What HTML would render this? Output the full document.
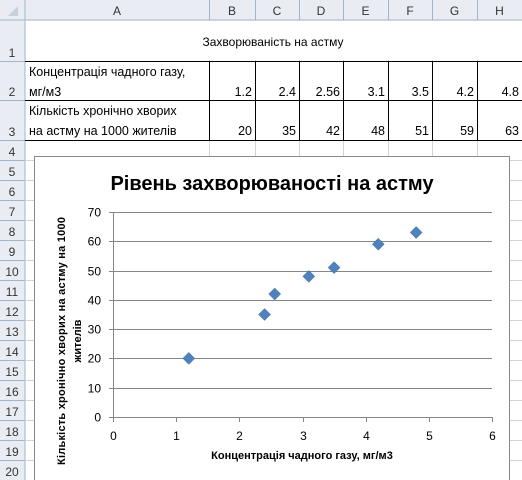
<!DOCTYPE html>
<html><head><meta charset="utf-8"><style>
body{margin:0;background:#fff;}
svg{display:block;font-family:"Liberation Sans","DejaVu Sans",sans-serif;}
</style></head><body>
<svg id="s" width="522" height="480" viewBox="0 0 522 480" xmlns="http://www.w3.org/2000/svg">
<g id="grid"></g>
<g id="chart"></g>
</svg>
<script>
const xVals=[1.2,2.4,2.56,3.1,3.5,4.2,4.8];
const yVals=[20,35,42,48,51,59,63];
const xTicks=[0,1,2,3,4,5,6];
const yTicks=[0,10,20,30,40,50,60,70];
const NS='http://www.w3.org/2000/svg';
function mk(p,tag,attrs,txt){const e=document.createElementNS(NS,tag);for(const k in attrs)e.setAttribute(k,attrs[k]);if(txt!==undefined)e.textContent=txt;p.appendChild(e);return e;}
const G=document.getElementById('grid');
const colX=[25,209,255,299,343,388,432,477,522];
const colN=['A','B','C','D','E','F','G','H'];
const rowY=[20,61,100,140,160,180,200,220,240,260,280,300,320,340,360,380,400,420,440,460,480];
mk(G,'rect',{x:0,y:0,width:522,height:20,fill:'#e9edf3'});
mk(G,'rect',{x:0,y:0,width:25,height:480,fill:'#e9edf3'});
mk(G,'line',{x1:0,y1:20,x2:522,y2:20,stroke:'#9eb6ce'});
mk(G,'line',{x1:25,y1:0,x2:25,y2:480,stroke:'#9eb6ce'});
mk(G,'path',{d:'M18 6 L18 16 L8 16 Z',fill:'#c8cfd8'});
for(let i=1;i<colX.length;i++){mk(G,'line',{x1:colX[i]+.5,y1:20,x2:colX[i]+.5,y2:480,stroke:'#d4d4d4'});}
for(let i=0;i<rowY.length;i++){mk(G,'line',{x1:25,y1:rowY[i]+.5,x2:522,y2:rowY[i]+.5,stroke:'#d4d4d4'});}
mk(G,'rect',{x:26,y:21,width:496,height:39,fill:'#fff'});
for(let i=0;i<colN.length;i++){
 const t=mk(G,'text',{x:(colX[i]+colX[i+1])/2,y:15,'text-anchor':'middle','font-size':12,fill:'#333'},colN[i]);
 
 
 mk(G,'line',{x1:colX[i+1]+.5,y1:0,x2:colX[i+1]+.5,y2:20,stroke:'#9eb6ce'});
}
for(let r=1;r<rowY.length;r++){
 const y1=rowY[r];
 const t=mk(G,'text',{x:12,y:y1-4,'text-anchor':'middle','font-size':12,fill:'#333'},String(r));
 
 
 mk(G,'line',{x1:0,y1:y1+.5,x2:25,y2:y1+.5,stroke:'#9eb6ce'});
}
const tt=mk(G,'text',{x:273,y:46,'text-anchor':'middle','font-size':12,fill:'#000'},'Захворюваність на астму');

mk(G,'rect',{x:26,y:61,width:495,height:79,fill:'#fff'});
mk(G,'path',{d:'M25 61.5H522M25 100.5H522M25 140.5H522',stroke:'#000','stroke-width':1});
for(let i=1;i<colX.length-1;i++)mk(G,'line',{x1:colX[i]+.5,y1:61,x2:colX[i]+.5,y2:140,stroke:'#000'});
const l1=mk(G,'text',{x:29,y:76,'font-size':12.5,fill:'#000'},'Концентрація чадного газу,');
mk(G,'text',{x:29,y:96,'font-size':12.5,fill:'#000'},'мг/м3');

const l2=mk(G,'text',{x:29,y:115,'font-size':12.5,fill:'#000'},'Кількість хронічно хворих');
mk(G,'text',{x:29,y:135,'font-size':12.5,fill:'#000'},'на астму на 1000 жителів');

for(let i=0;i<xVals.length;i++){
 const a=mk(G,'text',{x:colX[i+2]-3,y:96,'text-anchor':'end','font-size':12.5},String(xVals[i]));
 
 const b=mk(G,'text',{x:colX[i+2]-3,y:135,'text-anchor':'end','font-size':12.5},String(yVals[i]));
 
}
const C=document.getElementById('chart');
const box=mk(C,'rect',{x:34.5,y:156.5,width:475,height:324,fill:'#fff',stroke:'#888'});

const X0=113,X1=492,Y0=417,Y1=212;
const sx=v=>X0+(v-0)/(6-0)*(X1-X0);
const sy=v=>Y0-(v-0)/(70-0)*(Y0-Y1);
for(const t of yTicks){
 const y=Math.round(sy(t))+.5;
 const g=mk(C,'line',{x1:X0,y1:y,x2:X1,y2:y,stroke:'#868686'});
 
 mk(C,'line',{x1:X0-4,y1:y,x2:X0,y2:y,stroke:'#868686'});
 const l=mk(C,'text',{x:X0-12,y:y+4,'text-anchor':'end','font-size':12,fill:'#000'},String(t));
 
}
mk(C,'line',{x1:X0+.5,y1:Y1,x2:X0+.5,y2:Y0+4,stroke:'#868686'});
for(const t of xTicks){
 const x=Math.round(sx(t))+.5;
 mk(C,'line',{x1:x,y1:Y0,x2:x,y2:Y0+5,stroke:'#868686'});
 const l=mk(C,'text',{x:x,y:Y0+23,'text-anchor':'middle','font-size':12,fill:'#000'},String(t));
 
}
for(let i=0;i<xVals.length;i++){
 const x=sx(xVals[i]),y=sy(yVals[i]);
 const p=mk(C,'path',{d:`M${x} ${y-6}L${x+6} ${y}L${x} ${y+6}L${x-6} ${y}Z`,fill:'#4f81bd',stroke:'#3f6fa8','stroke-width':.5});
 
 
}
const ti=mk(C,'text',{x:272,y:190,'text-anchor':'middle','font-size':20,'font-weight':'bold',fill:'#000'},'Рівень захворюваності на астму');

const xt=mk(C,'text',{x:302,y:459,'text-anchor':'middle','font-size':11,'font-weight':'bold',fill:'#000'},'Концентрація  чадного газу, мг/м3');

const yt=mk(C,'text',{transform:'translate(65,341) rotate(-90)','text-anchor':'middle','font-size':11,'font-weight':'bold',fill:'#000','textLength':248},'Кількість  хронічно  хворих  на  астму  на  1000');

mk(C,'text',{transform:'translate(81,341) rotate(-90)','text-anchor':'middle','font-size':11,'font-weight':'bold',fill:'#000'},'жителів');
</script>
</body></html>
